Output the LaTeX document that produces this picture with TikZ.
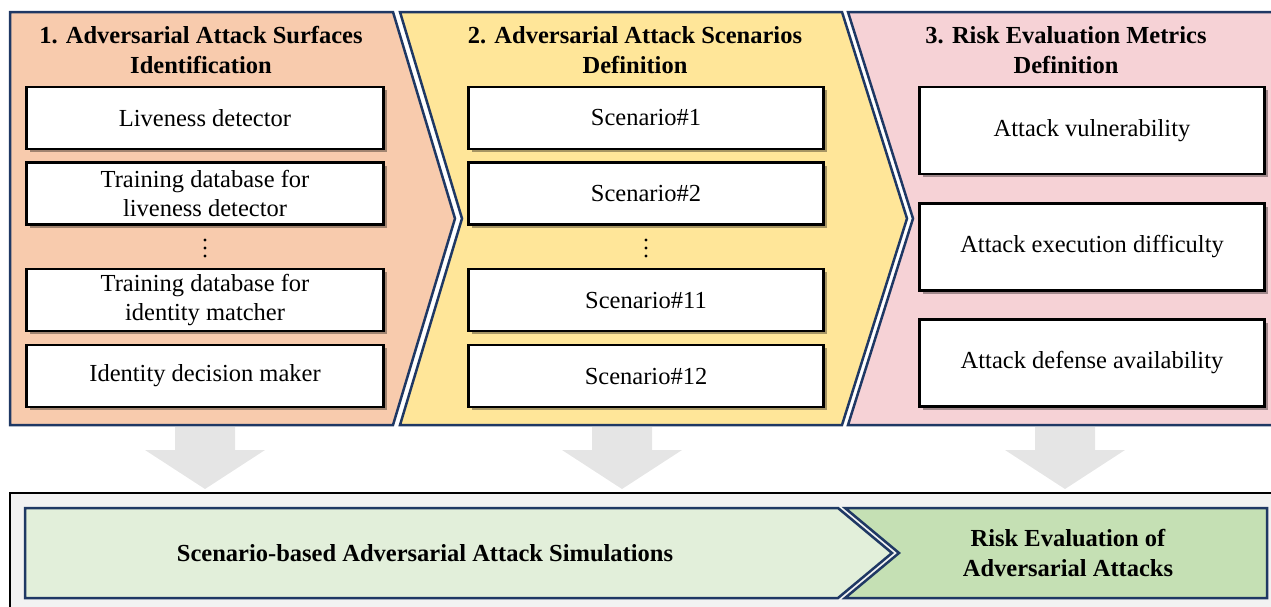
\documentclass[tikz,border=0pt]{standalone}
\usepackage{fontspec}
\setmainfont{Liberation Serif}
\usetikzlibrary{shadows}
\definecolor{navy}{HTML}{1F3864}
\definecolor{peach}{HTML}{F8CBAD}
\definecolor{gold}{HTML}{FFE699}
\definecolor{rose}{HTML}{F6D2D6}
\definecolor{lgreen}{HTML}{E2EFDA}
\definecolor{dgreen}{HTML}{C5E0B4}
\definecolor{bggray}{HTML}{F2F2F2}
\definecolor{arrgray}{HTML}{E5E5E5}
\begin{document}
\begin{tikzpicture}[x=1pt,y=-1pt,
  panel/.style={draw=navy,line width=2.5pt,line join=miter},
  itembox/.style={rectangle,draw=black,line width=2.6pt,fill=white,inner sep=0pt,
    align=center,minimum width=#1,
    font=\fontsize{24.5}{29.5}\selectfont,
    drop shadow={shadow xshift=3pt,shadow yshift=-3pt,opacity=0.35,fill=black}},
  title/.style={align=center,inner sep=0pt,font=\fontsize{24.5}{29.5}\selectfont\bfseries},
  dotmark/.style={circle,fill=black,inner sep=0pt,minimum size=3.4pt},
  downarrow/.style={fill=arrgray}]
\useasboundingbox (0,0) rectangle (1271,606);
\clip (0,0) rectangle (1271,606);

% top panels
\path[panel,fill=peach] (10,12) -- (393,12) -- (455,218.5) -- (393,425) -- (10,425) -- cycle;
\path[panel,fill=gold] (400,12) -- (842,12) -- (907,218.5) -- (842,425) -- (400,425) -- (462,218.5) -- cycle;
\path[panel,fill=rose] (848,12) -- (1290,12) -- (1290,425) -- (848,425) -- (913,218.5) -- cycle;

% titles
\node[title] (t1) at (201,50) {1. Adversarial Attack Surfaces\\Identification};
\node[title] (t2) at (635,50) {2. Adversarial Attack Scenarios\\Definition};
\node[title] (t3) at (1066,50) {3. Risk Evaluation Metrics\\Definition};

% panel 1 items
\node[itembox=357pt,minimum height=62pt] (a1) at (205,118) {Liveness detector};
\node[itembox=357pt,minimum height=62pt] (a2) at (205,193.5) {Training database for\\liveness detector};
\foreach \dy [count=\k] in {240,248,256} \node[dotmark] (ad\k) at (205,\dy) {};
\node[itembox=357pt,minimum height=62pt] (a3) at (205,300) {Training database for\\identity matcher};
\node[itembox=357pt,minimum height=62pt] (a4) at (205,376) {Identity decision maker};

% panel 2 items
\node[itembox=355pt,minimum height=62pt] (b1) at (646,118) {Scenario\#1};
\node[itembox=355pt,minimum height=62pt] (b2) at (646,193.5) {Scenario\#2};
\foreach \dy [count=\k] in {240,248,256} \node[dotmark] (bd\k) at (646,\dy) {};
\node[itembox=355pt,minimum height=62pt] (b3) at (646,300) {Scenario\#11};
\node[itembox=355pt,minimum height=62pt] (b4) at (646,376) {Scenario\#12};

% panel 3 items
\node[itembox=345pt,minimum height=87pt] (c1) at (1092,130.5) {Attack vulnerability};
\node[itembox=345pt,minimum height=87pt] (c2) at (1092,247) {Attack execution difficulty};
\node[itembox=345pt,minimum height=87pt] (c3) at (1092,363) {Attack defense availability};

% gray down arrows
\foreach \cx in {205,622,1065}{
  \path[downarrow] (\cx-30,427) -- (\cx+30,427) -- (\cx+30,450) -- (\cx+60,450)
    -- (\cx,489) -- (\cx-60,450) -- (\cx-30,450) -- cycle;
}

% bottom frame
\path[draw=black,line width=2.8pt,fill=bggray] (10,493) rectangle (1300,640);
\path[panel,fill=lgreen] (25,508) -- (838,508) -- (892,553) -- (838,598) -- (25,598) -- cycle;
\path[panel,fill=dgreen] (845,508) -- (1267,508) -- (1267,598) -- (845,598) -- (899,553) -- cycle;
\node[title] (s1) at (425,553) {Scenario-based Adversarial Attack Simulations};
\node[title] (s2) at (1068,553) {Risk Evaluation of\\Adversarial Attacks};
\end{tikzpicture}
\end{document}
